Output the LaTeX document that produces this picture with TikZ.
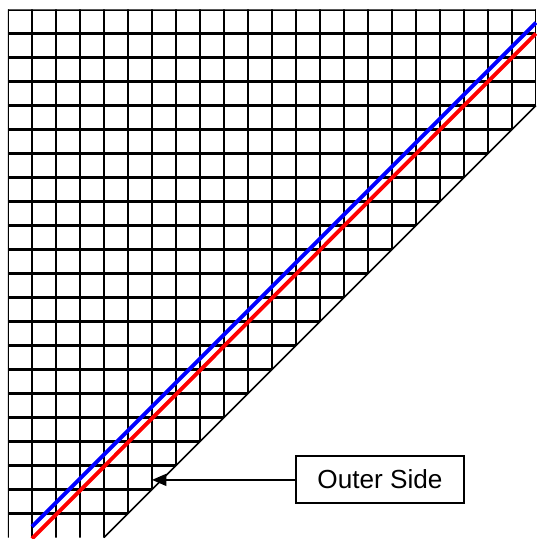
\documentclass[tikz,border=0pt]{standalone}
\usepackage{fontspec}
\setmainfont{Liberation Sans}
\usetikzlibrary{arrows.meta,positioning}
\definecolor{wallBlue}{HTML}{0000ff}
\definecolor{wallRed}{HTML}{ff0000}
\tikzset{
  >={Triangle[length=17pt,width=14pt]},
  cellgrid/.style={draw=black, line width=2.4pt},
  edge/.style={draw=black, line width=1.8pt},
  inner line/.style={draw=wallBlue, line width=4.6pt},
  outer line/.style={draw=wallRed, line width=4.6pt},
  tag/.style={draw=black, line width=2.4pt, fill=white, minimum width=7cm,
              minimum height=1.96cm, inner sep=0pt, font=\fontsize{31}{37}\selectfont},
  pointer/.style={->, draw=black, line width=2.4pt},
}

\begin{document}
\begin{tikzpicture}
        \useasboundingbox (-0.333,-0.0625) rectangle (22.04,22.396);
        % grid above the cut
        \begin{scope}
          \clip (0,0) -- (4,0) -- (22,18) -- (22,22) -- (0,22) -- cycle;
          \foreach \x in {0,...,22}{\draw[cellgrid] (\x,-0.1) -- (\x,22);}
          \foreach \y in {1,...,22}{\draw[cellgrid] (0,\y) -- (22,\y);}
        \end{scope}
        \coordinate (cutA) at (4,0);
        \coordinate (cutB) at (22,18);
        \draw[edge] (cutA) -- (cutB);
        % wall faces
        \coordinate (bA) at (1,0.45);
        \coordinate (bB) at (22,21.45);
        \coordinate (rA) at (1,-0.05);
        \coordinate (rB) at (22,21);
        \draw[inner line] (bA) -- (bB);
        \draw[outer line] (rA) -- (rB);
        \node[tag] (outer) at (15.5,2.42) {Outer Side};
        \coordinate (hit) at (6,2.4);
        \draw[pointer] (outer.west|-hit) -- (hit);
      \end{tikzpicture}
\end{document}
